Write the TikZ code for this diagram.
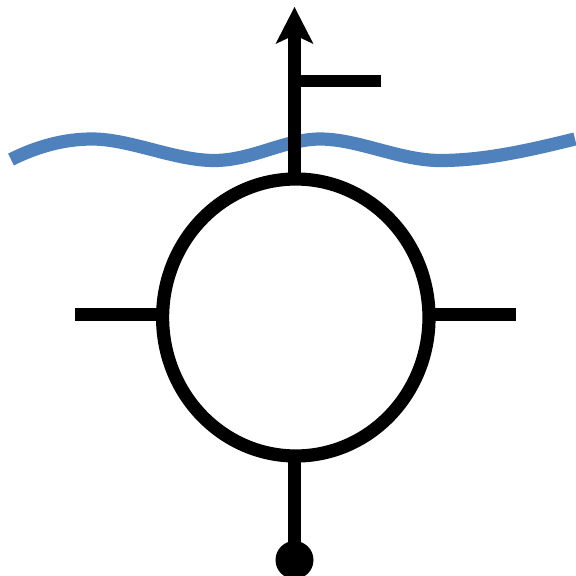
\documentclass[tikz,border=0pt]{standalone}
\usetikzlibrary{shapes.geometric,arrows.meta}
\definecolor{wave}{HTML}{4F81BD}
\tikzset{
  sym/.style={draw=black,line width=12.5*0.75pt},
  float/.style={draw=black,line width=13.2*0.75pt,ellipse,inner sep=0pt,fill=none,minimum width=266.4*0.75pt,minimum height=277*0.75pt},
  wavy/.style={draw=wave,line width=13.2*0.75pt}
}
\begin{document}
\begin{tikzpicture}[x=0.75pt,y=-0.75pt]
\useasboundingbox (0,0) rectangle (576,576);
\clip (0,0) rectangle (576,576);
\draw[wavy] (11,159.5) .. controls (38,146) and (65,139) .. (92,139)
  .. controls (130,139) and (175,160.5) .. (214,160.5)
  .. controls (252,160.5) and (285,139) .. (320,139)
  .. controls (358,139) and (400,160.5) .. (440,160.5)
  .. controls (485,160.5) and (530,150) .. (575,139);
\node[float] (c) at (295.8,317.5) {};
\coordinate (up) at (294.5,30);
\coordinate (top) at (294.5,178);
\coordinate (bot) at (294.5,456);
\coordinate (fa) at (294.5,81);
\coordinate (fb) at (381,81);
\coordinate (la) at (75,314.5);
\coordinate (lb) at (163,314.5);
\coordinate (ra) at (516,314.5);
\coordinate (rb) at (429,314.5);
\node[circle,fill=black,draw=none,inner sep=0pt,minimum size=38*0.75pt] (d) at (294.5,560) {};
\draw[sym] (top) -- (up);
\draw[sym] (fa) -- (fb);
\draw[sym] (la) -- (lb);
\draw[sym] (ra) -- (rb);
\draw[sym] (bot) -- (d.center);
\fill[black] (294.5,7) -- (313.5,44) -- (294.5,35) -- (275.5,44) -- cycle;
\end{tikzpicture}
\end{document}
